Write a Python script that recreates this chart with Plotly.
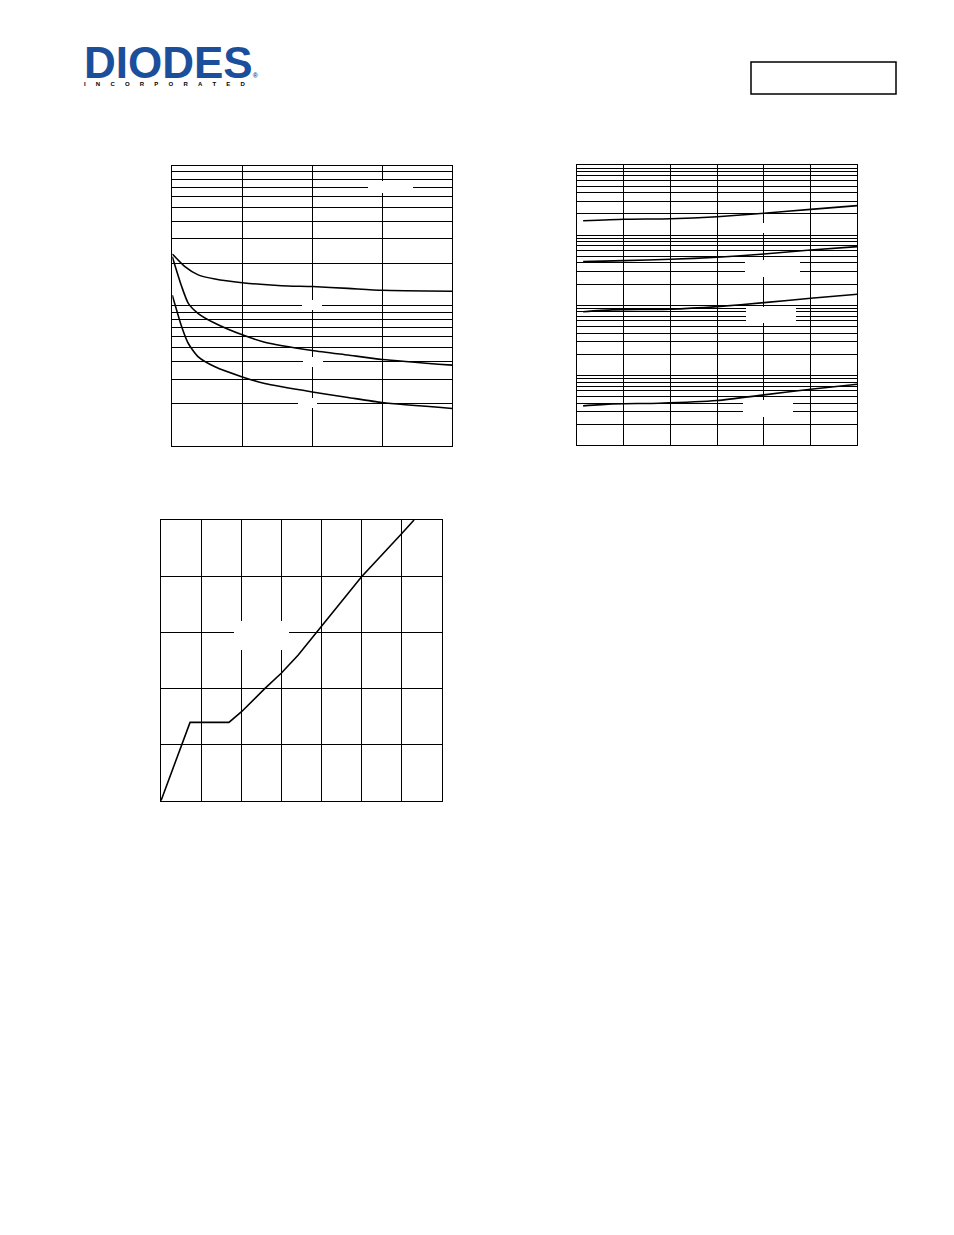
import plotly.graph_objects as go

# figure sits inside the page's default 8px body margin
OFF = 8
W, H = 954 - 2 * OFF, 1235 - 2 * OFF

# ---------------- Data ----------------
# Chart 1: capacitance vs drain-source voltage (log y)
ciss_v = [0, 1.8, 3.7, 6.1, 10, 15.6, 20, 25.1, 30, 40]
ciss = [234, 190, 166, 155, 146, 139, 137, 133, 129, 127]
oss_v = [0, 1.34, 2.29, 3.71, 6.1, 10, 13.2, 20, 25.1, 30, 40]
coss = [224, 137, 104, 88, 75, 62, 55, 48, 44.5, 41.4, 37.7]
crss = [119, 70.8, 53.8, 43.2, 36.7, 31.1, 27.9, 24.3, 22.2, 20.4, 18.5]

# Chart 2: four curves vs temperature (log y)
temp_a = [-55, -20, 20, 60, 100, 140, 180]
curve1 = [16.0, 16.8, 17.1, 18.3, 20.5, 23.3, 26.3]
curve2 = [4.18, 4.32, 4.52, 4.82, 5.37, 6.12, 6.84]
temp_b = [-55, -30, 20, 60, 100, 140, 180]
curve3 = [0.807, 0.855, 0.875, 0.953, 1.087, 1.254, 1.43]
temp_c = [-55, -30, 10, 60, 100, 140, 180]
curve4 = [0.0365, 0.039, 0.0399, 0.0435, 0.0524, 0.0631, 0.0745]

# Chart 3: gate charge
qg = [0, 1.45, 3.39, 4.02, 5.19, 6.0, 6.85, 7.85, 10.01, 12.03, 12.63]
vgs = [0, 2.79, 2.79, 3.17, 4.0, 4.54, 5.19, 6.08, 7.98, 9.53, 10.0]

logo_name = "DIODES"
logo_sub = "INCORPORATED"


def px(x):
    return (x - OFF) / W


def py(y):
    return 1 - (y - OFF) / H


line_style = dict(color="black", width=1.6)
spl = dict(shape="spline", smoothing=0.6)

fig = go.Figure()
# chart 1
fig.add_trace(go.Scatter(x=ciss_v, y=ciss, mode="lines", line=dict(line_style, **spl), xaxis="x", yaxis="y"))
fig.add_trace(go.Scatter(x=oss_v, y=coss, mode="lines", line=dict(line_style, **spl), xaxis="x", yaxis="y"))
fig.add_trace(go.Scatter(x=oss_v, y=crss, mode="lines", line=dict(line_style, **spl), xaxis="x", yaxis="y"))
# chart 2
fig.add_trace(go.Scatter(x=temp_a, y=curve1, mode="lines", line=dict(line_style, **spl), xaxis="x2", yaxis="y2"))
fig.add_trace(go.Scatter(x=temp_a, y=curve2, mode="lines", line=dict(line_style, **spl), xaxis="x2", yaxis="y2"))
fig.add_trace(go.Scatter(x=temp_b, y=curve3, mode="lines", line=dict(line_style, **spl), xaxis="x2", yaxis="y2"))
fig.add_trace(go.Scatter(x=temp_c, y=curve4, mode="lines", line=dict(line_style, **spl), xaxis="x2", yaxis="y2"))
# chart 3
fig.add_trace(go.Scatter(x=qg, y=vgs, mode="lines", line=line_style, xaxis="x3", yaxis="y3"))

ax_common = dict(showline=True, mirror=True, linecolor="black", linewidth=1,
                 showgrid=True, gridcolor="black", gridwidth=1,
                 zeroline=False, showticklabels=False, ticks="")

fig.update_layout(
    width=W, height=H, margin=dict(l=0, r=0, t=0, b=0),
    paper_bgcolor="white", plot_bgcolor="white", showlegend=False,
    xaxis=dict(ax_common, domain=[px(172.3), px(452.3)], range=[0, 40], tick0=0, dtick=10, anchor="y"),
    yaxis=dict(ax_common, domain=[py(446), py(165.5)], type="log", range=[1, 3], dtick="D1", anchor="x"),
    xaxis2=dict(ax_common, domain=[px(577.3), px(857.3)], range=[-60, 180], tick0=-60, dtick=40, anchor="y2"),
    yaxis2=dict(ax_common, domain=[py(445.3), py(165)], type="log", range=[-2, 2], dtick="D1", anchor="x2"),
    xaxis3=dict(ax_common, domain=[px(161), px(441.5)], range=[0, 14], tick0=0, dtick=2, anchor="y3"),
    yaxis3=dict(ax_common, domain=[py(800.7), py(520)], range=[0, 10], tick0=0, dtick=2, anchor="x3"),
)

shapes = []


def white_box(x0, y0, x1, y1):
    shapes.append(dict(type="rect", xref="paper", yref="paper",
                       x0=px(x0), x1=px(x1), y0=py(y1), y1=py(y0),
                       fillcolor="white", line=dict(width=0), layer="above"))


# blank label areas (chart 1)
white_box(368, 181, 413, 193)
white_box(302, 300, 322, 310)
white_box(303, 357, 323, 367)
white_box(298, 398, 317, 408)
# chart 2
white_box(745, 260, 800, 277)
white_box(746, 307, 796, 323)
white_box(743, 400, 793, 417)
white_box(762, 223, 765, 233)
# chart 3
white_box(234, 621, 289, 650)

# header box at top right
shapes.append(dict(type="rect", xref="paper", yref="paper",
                   x0=px(751), x1=px(896), y0=py(94), y1=py(62),
                   line=dict(color="black", width=1.5), fillcolor="rgba(0,0,0,0)"))

# white stripe through logo
shapes.append(dict(type="line", xref="paper", yref="paper",
                   x0=px(88), x1=px(152), y0=py(56), y1=py(56),
                   line=dict(color="white", width=1.5), layer="above"))

gap = "\u2003\u2002\u2009"
logo_text = ("<b><span style='font-size:44px;color:#1b4f9c'>" + logo_name + "</span>"
             "<span style='font-size:7px;color:#1b4f9c'>®</span><br>"
             + gap.join(logo_sub) + "</b>")

annotations = [
    dict(text=logo_text, x=px(82), y=py(36), xref="paper", yref="paper",
         xanchor="left", yanchor="top", align="left", showarrow=False,
         font=dict(family="Liberation Sans", size=6, color="black")),
]

fig.update_layout(shapes=shapes, annotations=annotations)

fig.write_html("out.html")
